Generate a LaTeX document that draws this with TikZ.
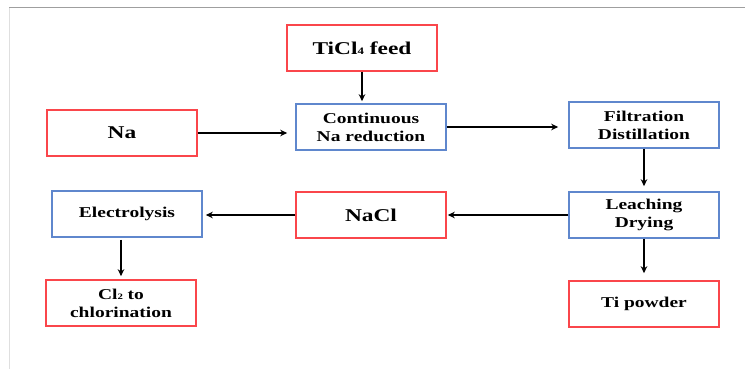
\documentclass[tikz,border=0pt]{standalone}
\usepackage{fontspec}
\usepackage{tikz}
\usetikzlibrary{arrows.meta,calc}
\newfontfamily\boxfont{Liberation Serif}[FakeStretch=1.3]
\definecolor{boxred}{RGB}{250,70,75}
\definecolor{boxblue}{RGB}{95,135,205}
\newcommand\lowsub[1]{{\fontsize{0.55em}{0.55em}\selectfont #1}}

\begin{document}
\begin{tikzpicture}[
x=1pt, y=-1pt,
box/.style={
	rectangle, draw, line width=1.6pt,
	minimum width=150pt, minimum height=46pt,
	inner sep=2pt, align=center, text=black,
	font=\boxfont\bfseries\fontsize{15}{18}\selectfont
},
input/.style={box, draw=boxred},
stage/.style={box, draw=boxblue},
big/.style={font=\boxfont\bfseries\fontsize{18}{21}\selectfont},
flow/.style={-{Stealth[length=7pt,width=6.5pt]}, line width=1.7pt, black}
]
\useasboundingbox (0,0) rectangle (745,369);
\draw[gray!75, line width=1pt] (9,8) -- (745,8);
\draw[gray!25, line width=0.8pt] (9.5,8) -- (9.5,369);

\node[input,big] (feed) at (362,48) {TiCl\lowsub{4} feed};
\node[input,big] (na) at (122,133) {Na};
\node[stage] (reduction) at (371,127) {Continuous\\Na reduction};
\node[stage] (filtration) at (644,125) {Filtration\\Distillation};
\node[stage] (leaching) at (644,215) {Leaching\\Drying};
\node[input] (powder) at (644,304) {Ti powder};
\node[input,big] (nacl) at (371,215) {NaCl};
\node[stage] (electrolysis) at (127,214) {Electrolysis};
\node[input] (chlorine) at (121,303) {Cl\lowsub{2} to\\chlorination};

% main line
\draw[flow, shorten >=2pt] (feed.south) -- (feed.south |- reduction.north);
\draw[flow, shorten >=8pt] (na.east) -- (na.east -| reduction.west);
\draw[flow, shorten >=10pt] (reduction.east) -- (reduction.east -| filtration.west);
\draw[flow, shorten >=5pt] (filtration.south -| leaching.north) -- (leaching.north);
\draw[flow, shorten >=7pt] (leaching.south -| powder.north) -- (powder.north);
% salt recycle
\draw[flow, shorten >=1pt] (leaching.west) -- (leaching.west -| nacl.east);
\draw[flow, shorten >=3pt] (nacl.west) -- (nacl.west -| electrolysis.east);
\draw[flow, shorten <=2pt, shorten >=3pt] (electrolysis.south -| chlorine.north) -- (chlorine.north);
\end{tikzpicture}
\end{document}
